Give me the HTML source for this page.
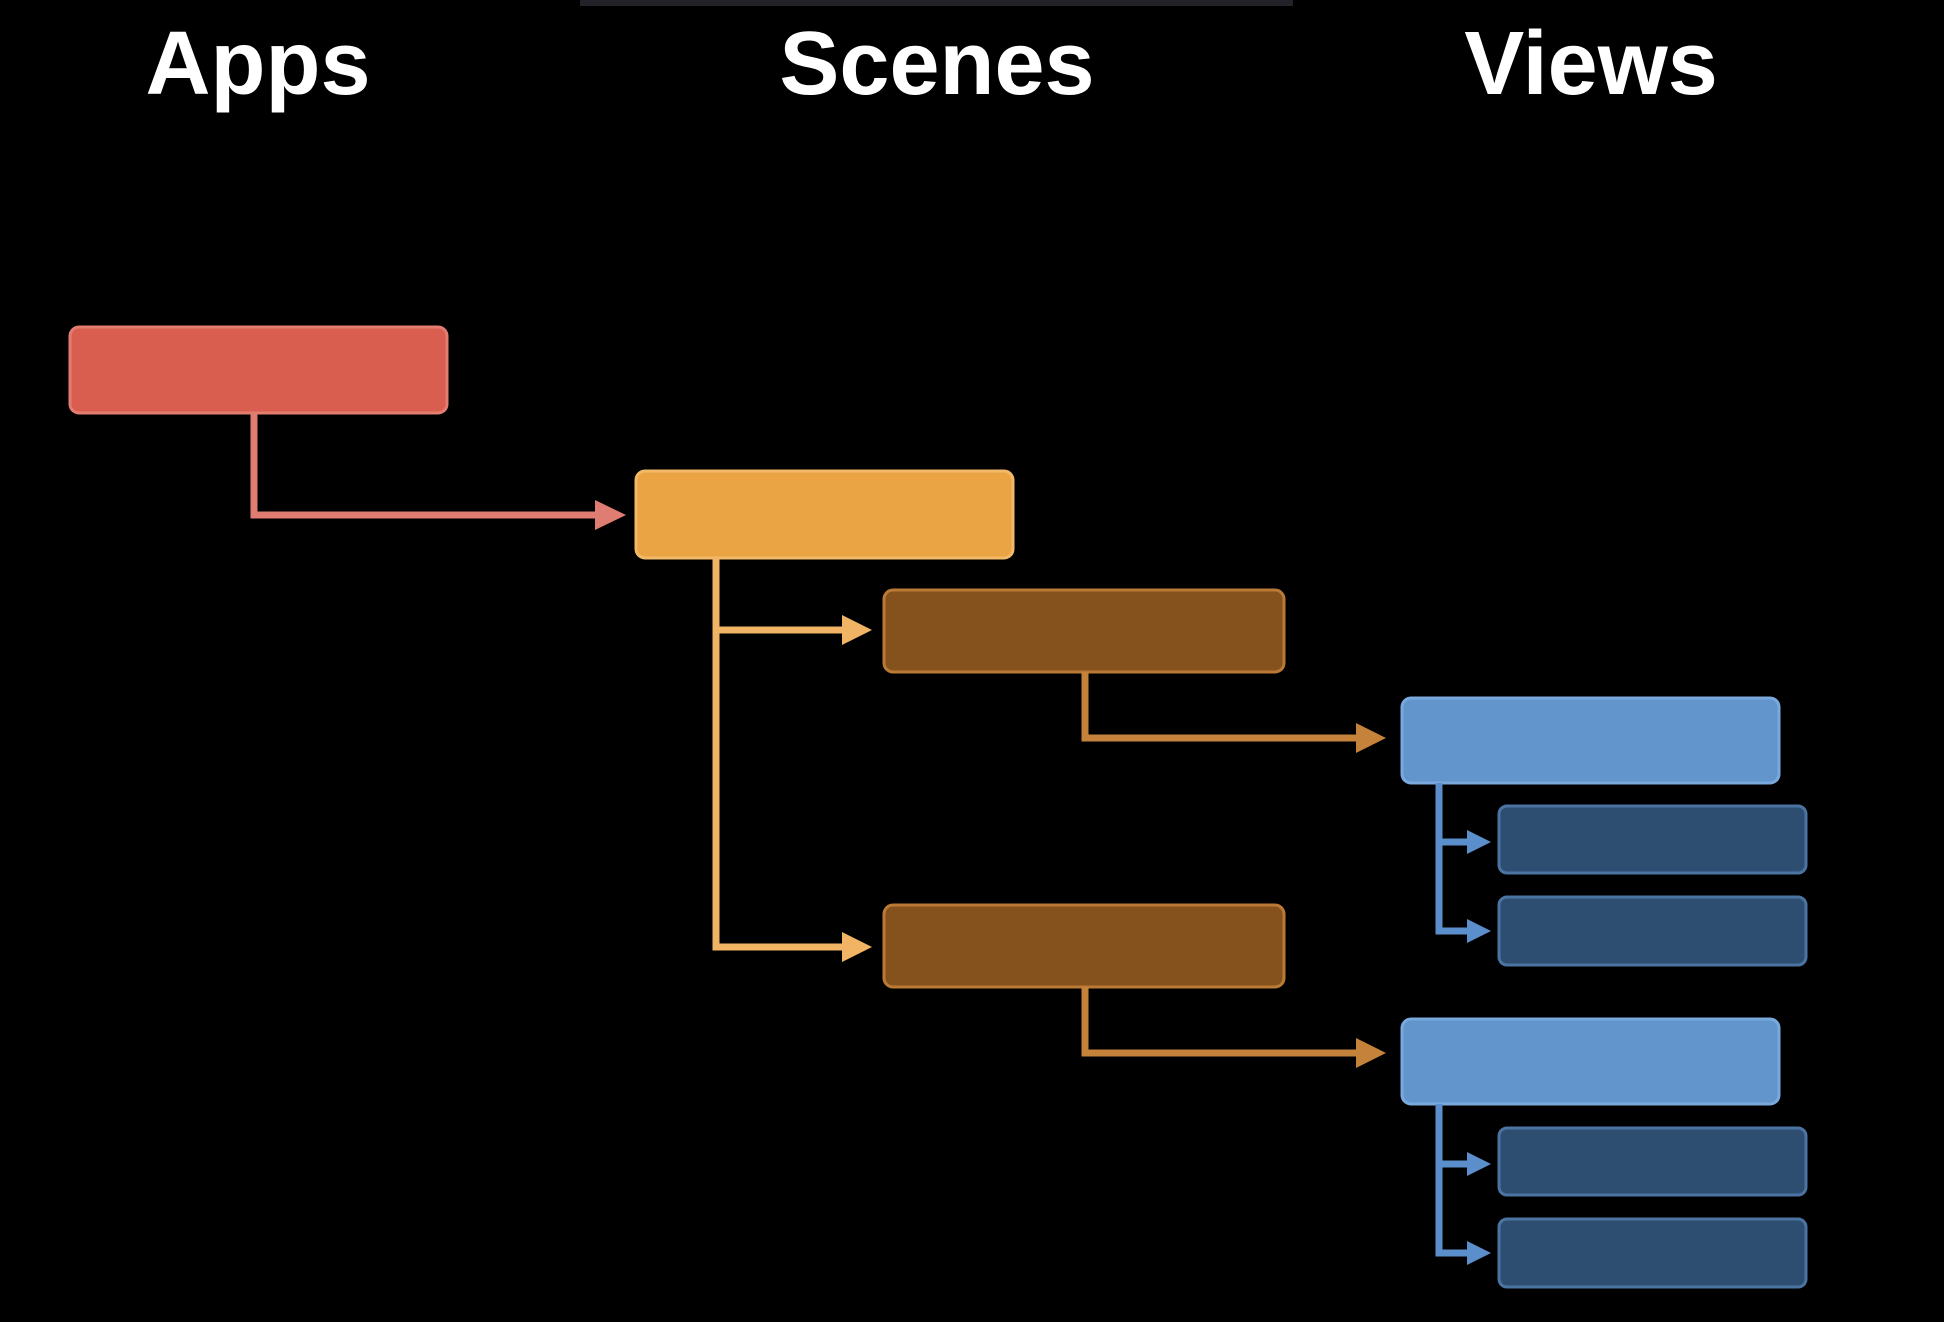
<!DOCTYPE html>
<html><head><meta charset="utf-8"><style>
html,body{margin:0;padding:0;background:#000;}
body{width:1944px;height:1322px;position:relative;overflow:hidden;font-family:"Liberation Sans",sans-serif;}
.t{position:absolute;top:14px;color:#fff;font-weight:bold;font-size:90px;line-height:100px;transform:translateX(-50%);white-space:nowrap;}
</style></head><body>
<div style="position:absolute;left:580px;top:0;width:713px;height:6px;background:#222228"></div>
<div class="t" style="left:258px">Apps</div>
<div class="t" style="left:937px">Scenes</div>
<div class="t" style="left:1591px">Views</div>
<svg width="1944" height="1322" style="position:absolute;left:0;top:0">
<g stroke-width="3">
<rect x="70" y="327" width="377" height="86" rx="9" fill="#d95e50" stroke="#e27d70"/>
<rect x="636" y="471" width="377" height="87" rx="9" fill="#eba443" stroke="#f2b968"/>
<rect x="884" y="590" width="400" height="82" rx="9" fill="#85521d" stroke="#ba7a35"/>
<rect x="884" y="905" width="400" height="82" rx="9" fill="#85521d" stroke="#ba7a35"/>
<rect x="1402" y="698" width="377" height="85" rx="9" fill="#6195cc" stroke="#7aa9dd"/>
<rect x="1402" y="1019" width="377" height="85" rx="9" fill="#6195cc" stroke="#7aa9dd"/>
<rect x="1499" y="806" width="307" height="67" rx="8" fill="#2d4e71" stroke="#4c74a2"/>
<rect x="1499" y="897" width="307" height="68" rx="8" fill="#2d4e71" stroke="#4c74a2"/>
<rect x="1499" y="1128" width="307" height="67" rx="8" fill="#2d4e71" stroke="#4c74a2"/>
<rect x="1499" y="1219" width="307" height="68" rx="8" fill="#2d4e71" stroke="#4c74a2"/>
</g>
<g fill="none" stroke-width="7">
<polyline points="254,413 254,515 600,515" stroke="#e07d72"/>
<polyline points="716,558 716,947 846,947" stroke="#f0b464"/>
<line x1="716" y1="630" x2="846" y2="630" stroke="#f0b464"/>
<polyline points="1085,672 1085,738 1360,738" stroke="#c4823a"/>
<polyline points="1085,987 1085,1053 1360,1053" stroke="#c4823a"/>
<polyline points="1439,783 1439,931 1470,931" stroke="#5b8fcc"/>
<line x1="1439" y1="842" x2="1470" y2="842" stroke="#5b8fcc"/>
<polyline points="1439,1104 1439,1253 1470,1253" stroke="#5b8fcc"/>
<line x1="1439" y1="1164" x2="1470" y2="1164" stroke="#5b8fcc"/>
</g>
<polygon points="595,500 626,515 595,530" fill="#e07d72"/>
<polygon points="842,615 872,630 842,645" fill="#f0b464"/>
<polygon points="842,932 872,947 842,962" fill="#f0b464"/>
<polygon points="1356,723 1386,738 1356,753" fill="#c4823a"/>
<polygon points="1356,1038 1386,1053 1356,1068" fill="#c4823a"/>
<polygon points="1467,830 1491,842 1467,854" fill="#5b8fcc"/>
<polygon points="1467,919 1491,931 1467,943" fill="#5b8fcc"/>
<polygon points="1467,1152 1491,1164 1467,1176" fill="#5b8fcc"/>
<polygon points="1467,1241 1491,1253 1467,1265" fill="#5b8fcc"/>
</svg>
</body></html>
